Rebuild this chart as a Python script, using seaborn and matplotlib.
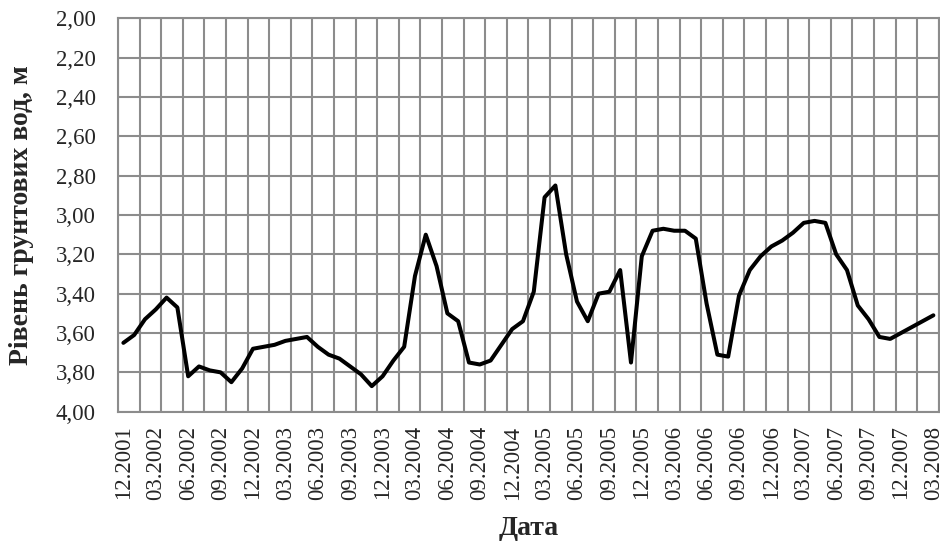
import matplotlib

matplotlib.use("Agg")
import matplotlib.pyplot as plt
import numpy as np
import pandas as pd
import seaborn as sns
from matplotlib.ticker import FixedLocator, FuncFormatter

# monthly groundwater level readings, 12.2001 .. 03.2008
months = pd.date_range("2001-12-01", "2008-03-01", freq="MS").strftime("%m.%Y").tolist()
levels = [
    3.65, 3.61, 3.53, 3.48, 3.42, 3.47, 3.82, 3.77, 3.79, 3.80,
    3.85, 3.78, 3.68, 3.67, 3.66, 3.64, 3.63, 3.62, 3.67, 3.71,
    3.73, 3.77, 3.81, 3.87, 3.82, 3.74, 3.67, 3.31, 3.10, 3.26,
    3.50, 3.54, 3.75, 3.76, 3.74, 3.66, 3.58, 3.54, 3.39, 2.91,
    2.85, 3.20, 3.44, 3.54, 3.40, 3.39, 3.28, 3.75, 3.21, 3.08,
    3.07, 3.08, 3.08, 3.12, 3.45, 3.71, 3.72, 3.41, 3.28, 3.21,
    3.16, 3.13, 3.09, 3.04, 3.03, 3.04, 3.20, 3.28, 3.46, 3.53,
    3.62, 3.63, 3.60, 3.57, 3.54, 3.51,
]
y_ticks = [2.0, 2.2, 2.4, 2.6, 2.8, 3.0, 3.2, 3.4, 3.6, 3.8, 4.0]

df = pd.DataFrame({"idx": np.arange(len(months)), "month": months, "level": levels})

sns.set_style("white")
plt.rcParams["font.family"] = ["Liberation Serif", "DejaVu Serif"]

fig = plt.figure(figsize=(9.4, 5.58), dpi=100)
ax = fig.add_axes([0.1255, 0.2622, 0.8732, 0.705])

sns.lineplot(data=df, x="idx", y="level", color="black", linewidth=2.9, ax=ax)

grid_col = "#8c8c8c"
n = len(months)
ax.set_xlim(-0.5, n - 0.5)
ax.set_ylim(4.0, 2.0)

# labels every 3rd month, grid/ticks every 2nd month boundary
ax.xaxis.set_major_locator(FixedLocator(list(range(0, n, 3))))
ax.set_xticklabels(months[::3], rotation=90, fontsize=16.5)
ax.xaxis.set_minor_locator(FixedLocator(list(np.arange(-0.5, n, 2.0))))
ax.tick_params(axis="x", which="major", length=0, pad=10)
ax.tick_params(axis="x", which="minor", length=6, width=1.5, color=grid_col)

ax.set_yticks(y_ticks)
ax.yaxis.set_major_formatter(FuncFormatter(lambda v, _: f"{v:.2f}".replace(".", ",")))
ax.tick_params(axis="y", length=6, width=1.5, color=grid_col, labelsize=16.5, pad=10)

ax.grid(True, axis="y", which="major", color=grid_col, linewidth=1.5)
ax.grid(True, axis="x", which="minor", color=grid_col, linewidth=1.5)
ax.grid(False, axis="x", which="major")
ax.set_axisbelow(True)
for side in ["left", "bottom", "top", "right"]:
    ax.spines[side].set_color(grid_col)
    ax.spines[side].set_linewidth(1.5)

ax.set_xlabel("Дата", fontsize=20, fontweight="bold")
ax.set_ylabel("Рівень грунтових вод, м", fontsize=20, fontweight="bold")
ax.xaxis.set_label_coords(0.5, -0.265)
ax.yaxis.set_label_coords(-0.102, 0.5)

fig.savefig("out.png", dpi=100)
